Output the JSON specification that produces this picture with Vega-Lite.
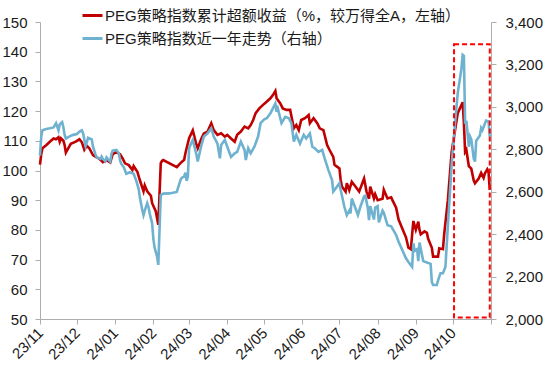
{
  "$schema": "https://vega.github.io/schema/vega-lite/v6.json",
  "width": 451,
  "height": 297,
  "autosize": {"type": "none"},
  "padding": {"left": 40, "top": 22, "right": 59, "bottom": 58},
  "background": "white",
  "config": {
    "view": {"stroke": null},
    "axis": {"labelFont": "Liberation Sans", "labelFontSize": 15, "labelColor": "#1a1a1a", "domainColor": "#ADADAD", "tickColor": "#ADADAD", "tickSize": 5, "grid": false, "title": null}
  },
  "datasets": {
    "excess": [
      {"d":"2023-11-01","v":102},{"d":"2023-11-02","v":105.5},{"d":"2023-11-03","v":107.5},{"d":"2023-11-06","v":108.5},{"d":"2023-11-09","v":109.7},{"d":"2023-11-12","v":110.8},{"d":"2023-11-14","v":110.5},{"d":"2023-11-16","v":111.2},{"d":"2023-11-17","v":109.7},{"d":"2023-11-18","v":110.8},{"d":"2023-11-20","v":110},{"d":"2023-11-21","v":108.5},{"d":"2023-11-22","v":106},{"d":"2023-11-24","v":107.5},{"d":"2023-11-26","v":109},{"d":"2023-11-30","v":109.7},
      {"d":"2023-12-03","v":110.5},{"d":"2023-12-05","v":109.5},{"d":"2023-12-07","v":107},{"d":"2023-12-09","v":108.3},{"d":"2023-12-11","v":107.5},{"d":"2023-12-14","v":105.2},{"d":"2023-12-17","v":104.4},{"d":"2023-12-19","v":104},{"d":"2023-12-22","v":102.8},{"d":"2023-12-25","v":103.5},{"d":"2023-12-28","v":102.7},{"d":"2023-12-30","v":105.5},
      {"d":"2024-01-02","v":106.2},{"d":"2024-01-05","v":105.5},{"d":"2024-01-07","v":104.1},{"d":"2024-01-09","v":102.4},{"d":"2024-01-12","v":101.8},{"d":"2024-01-15","v":100.2},{"d":"2024-01-16","v":101.5},{"d":"2024-01-19","v":99.6},{"d":"2024-01-21","v":96.8},{"d":"2024-01-24","v":93},{"d":"2024-01-25","v":95},{"d":"2024-01-27","v":93},{"d":"2024-01-30","v":91.5},{"d":"2024-01-31","v":89},
      {"d":"2024-02-03","v":86.2},{"d":"2024-02-05","v":81.7},{"d":"2024-02-07","v":102.5},{"d":"2024-02-08","v":103.2},{"d":"2024-02-09","v":103.5},{"d":"2024-02-20","v":101.1},{"d":"2024-02-23","v":102.5},{"d":"2024-02-26","v":103.6},{"d":"2024-02-27","v":105.8},
      {"d":"2024-03-01","v":110.9},{"d":"2024-03-04","v":113.5},{"d":"2024-03-07","v":108.6},{"d":"2024-03-08","v":107.5},{"d":"2024-03-11","v":110.8},{"d":"2024-03-13","v":112.5},{"d":"2024-03-16","v":113.1},{"d":"2024-03-19","v":115.9},{"d":"2024-03-21","v":113.6},{"d":"2024-03-24","v":112},{"d":"2024-03-27","v":112.5},{"d":"2024-03-30","v":111.4},
      {"d":"2024-04-01","v":112},{"d":"2024-04-04","v":110.8},{"d":"2024-04-07","v":109.7},{"d":"2024-04-09","v":112},{"d":"2024-04-12","v":113.1},{"d":"2024-04-15","v":114.8},{"d":"2024-04-18","v":114.2},{"d":"2024-04-20","v":115.3},{"d":"2024-04-22","v":117},{"d":"2024-04-24","v":119.3},{"d":"2024-04-27","v":120.9},{"d":"2024-04-30","v":122.1},
      {"d":"2024-05-02","v":122.8},{"d":"2024-05-06","v":124.3},{"d":"2024-05-08","v":125.4},{"d":"2024-05-10","v":126.8},{"d":"2024-05-11","v":124.3},{"d":"2024-05-14","v":122.6},{"d":"2024-05-16","v":120.9},{"d":"2024-05-19","v":120.4},{"d":"2024-05-22","v":120.4},{"d":"2024-05-25","v":114.2},{"d":"2024-05-27","v":115.3},{"d":"2024-05-29","v":113.6},{"d":"2024-05-31","v":117},
      {"d":"2024-06-03","v":117.6},{"d":"2024-06-06","v":118.7},{"d":"2024-06-07","v":115.9},{"d":"2024-06-10","v":117.6},{"d":"2024-06-13","v":115.9},{"d":"2024-06-15","v":114.2},{"d":"2024-06-18","v":113.6},{"d":"2024-06-21","v":108.6},{"d":"2024-06-23","v":106.9},{"d":"2024-06-26","v":104.6},{"d":"2024-06-27","v":101.9},{"d":"2024-06-29","v":101.3},
      {"d":"2024-07-01","v":100.7},{"d":"2024-07-02","v":96.8},{"d":"2024-07-03","v":94.6},{"d":"2024-07-06","v":92.9},{"d":"2024-07-07","v":95.7},{"d":"2024-07-09","v":93.4},{"d":"2024-07-11","v":96.2},{"d":"2024-07-14","v":94.6},{"d":"2024-07-17","v":92.9},{"d":"2024-07-20","v":96.2},{"d":"2024-07-21","v":97.3},{"d":"2024-07-23","v":92.9},{"d":"2024-07-25","v":90.5},{"d":"2024-07-26","v":94.6},{"d":"2024-07-29","v":90.6},{"d":"2024-07-30","v":92},
      {"d":"2024-08-01","v":90},{"d":"2024-08-05","v":90.5},{"d":"2024-08-06","v":93.5},{"d":"2024-08-09","v":90.6},{"d":"2024-08-12","v":91},{"d":"2024-08-13","v":90},{"d":"2024-08-16","v":87.5},{"d":"2024-08-18","v":83.5},{"d":"2024-08-21","v":80.5},{"d":"2024-08-24","v":77.5},{"d":"2024-08-26","v":74},{"d":"2024-08-28","v":73.5},{"d":"2024-08-29","v":78.5},{"d":"2024-08-30","v":83},
      {"d":"2024-09-01","v":80},{"d":"2024-09-03","v":82.8},{"d":"2024-09-04","v":80},{"d":"2024-09-05","v":78.5},{"d":"2024-09-08","v":79.5},{"d":"2024-09-10","v":79},{"d":"2024-09-11","v":77},{"d":"2024-09-14","v":74},{"d":"2024-09-15","v":71},{"d":"2024-09-19","v":71},{"d":"2024-09-20","v":73.8},{"d":"2024-09-23","v":73.5},{"d":"2024-09-24","v":78.5},{"d":"2024-09-27","v":90},{"d":"2024-09-30","v":106},
      {"d":"2024-10-03","v":114},{"d":"2024-10-05","v":119.3},{"d":"2024-10-08","v":122},{"d":"2024-10-09","v":123},{"d":"2024-10-10","v":116},{"d":"2024-10-11","v":106.3},{"d":"2024-10-12","v":107},{"d":"2024-10-14","v":101.5},{"d":"2024-10-16","v":100.6},{"d":"2024-10-18","v":96.6},{"d":"2024-10-19","v":95.7},{"d":"2024-10-22","v":97.3},{"d":"2024-10-24","v":99.2},{"d":"2024-10-26","v":97.5},{"d":"2024-10-27","v":99},{"d":"2024-10-29","v":100.4},{"d":"2024-10-30","v":99.5},{"d":"2024-10-31","v":93.5}
    ],
    "index": [
      {"d":"2023-11-01","v":2770},{"d":"2023-11-02","v":2860},{"d":"2023-11-03","v":2890},{"d":"2023-11-06","v":2896},{"d":"2023-11-09","v":2899},{"d":"2023-11-12","v":2903},{"d":"2023-11-13","v":2913},{"d":"2023-11-14","v":2923},{"d":"2023-11-16","v":2889},{"d":"2023-11-17","v":2917},{"d":"2023-11-19","v":2928},{"d":"2023-11-20","v":2903},{"d":"2023-11-21","v":2868},{"d":"2023-11-22","v":2851},{"d":"2023-11-25","v":2861},{"d":"2023-11-28","v":2868},
      {"d":"2023-12-01","v":2872},{"d":"2023-12-03","v":2883},{"d":"2023-12-05","v":2889},{"d":"2023-12-06","v":2875},{"d":"2023-12-08","v":2816},{"d":"2023-12-09","v":2833},{"d":"2023-12-10","v":2854},{"d":"2023-12-13","v":2847},{"d":"2023-12-14","v":2812},{"d":"2023-12-16","v":2777},{"d":"2023-12-17","v":2762},{"d":"2023-12-20","v":2755},{"d":"2023-12-21","v":2766},{"d":"2023-12-22","v":2755},{"d":"2023-12-24","v":2743},{"d":"2023-12-25","v":2762},{"d":"2023-12-26","v":2755},{"d":"2023-12-28","v":2742},{"d":"2023-12-29","v":2778},{"d":"2023-12-30","v":2794},
      {"d":"2024-01-02","v":2797},{"d":"2024-01-04","v":2781},{"d":"2024-01-05","v":2746},{"d":"2024-01-06","v":2731},{"d":"2024-01-08","v":2715},{"d":"2024-01-09","v":2700},{"d":"2024-01-10","v":2685},{"d":"2024-01-13","v":2692},{"d":"2024-01-16","v":2685},{"d":"2024-01-17","v":2669},{"d":"2024-01-18","v":2654},{"d":"2024-01-20","v":2615},{"d":"2024-01-21","v":2575},{"d":"2024-01-23","v":2514},{"d":"2024-01-24","v":2490},{"d":"2024-01-25","v":2511},{"d":"2024-01-27","v":2546},{"d":"2024-01-28","v":2529},{"d":"2024-01-29","v":2498},{"d":"2024-01-31","v":2451},
      {"d":"2024-02-01","v":2378},{"d":"2024-02-02","v":2336},{"d":"2024-02-04","v":2295},{"d":"2024-02-05","v":2255},{"d":"2024-02-06","v":2420},{"d":"2024-02-07","v":2584},{"d":"2024-02-09","v":2591},{"d":"2024-02-14","v":2592},{"d":"2024-02-20","v":2599},{"d":"2024-02-23","v":2655},{"d":"2024-02-24","v":2665},{"d":"2024-02-26","v":2672},{"d":"2024-02-27","v":2690},{"d":"2024-02-28","v":2651},{"d":"2024-02-29","v":2671},
      {"d":"2024-03-01","v":2805},{"d":"2024-03-02","v":2819},{"d":"2024-03-04","v":2844},{"d":"2024-03-07","v":2773},{"d":"2024-03-08","v":2742},{"d":"2024-03-11","v":2820},{"d":"2024-03-13","v":2860},{"d":"2024-03-16","v":2875},{"d":"2024-03-19","v":2899},{"d":"2024-03-21","v":2860},{"d":"2024-03-24","v":2827},{"d":"2024-03-26","v":2757},{"d":"2024-03-27","v":2820},{"d":"2024-03-30","v":2844},
      {"d":"2024-04-01","v":2812},{"d":"2024-04-04","v":2764},{"d":"2024-04-07","v":2781},{"d":"2024-04-09","v":2788},{"d":"2024-04-12","v":2836},{"d":"2024-04-15","v":2797},{"d":"2024-04-16","v":2749},{"d":"2024-04-18","v":2805},{"d":"2024-04-20","v":2781},{"d":"2024-04-23","v":2812},{"d":"2024-04-26","v":2860},{"d":"2024-04-28","v":2923},
      {"d":"2024-05-01","v":2941},{"d":"2024-05-03","v":2946},{"d":"2024-05-06","v":2970},{"d":"2024-05-08","v":2993},{"d":"2024-05-10","v":3016},{"d":"2024-05-11","v":2977},{"d":"2024-05-12","v":2993},{"d":"2024-05-15","v":2923},{"d":"2024-05-18","v":2953},{"d":"2024-05-21","v":2946},{"d":"2024-05-23","v":2923},{"d":"2024-05-25","v":2836},{"d":"2024-05-27","v":2868},{"d":"2024-05-30","v":2827},
      {"d":"2024-06-02","v":2868},{"d":"2024-06-04","v":2851},{"d":"2024-06-07","v":2875},{"d":"2024-06-09","v":2812},{"d":"2024-06-11","v":2805},{"d":"2024-06-14","v":2788},{"d":"2024-06-17","v":2797},{"d":"2024-06-19","v":2757},{"d":"2024-06-22","v":2703},{"d":"2024-06-25","v":2655},{"d":"2024-06-26","v":2601},{"d":"2024-06-29","v":2624},
      {"d":"2024-07-01","v":2640},{"d":"2024-07-02","v":2609},{"d":"2024-07-05","v":2529},{"d":"2024-07-07","v":2490},{"d":"2024-07-09","v":2511},{"d":"2024-07-10","v":2498},{"d":"2024-07-11","v":2568},{"d":"2024-07-14","v":2522},{"d":"2024-07-16","v":2490},{"d":"2024-07-18","v":2529},{"d":"2024-07-21","v":2578},{"d":"2024-07-22","v":2581},{"d":"2024-07-24","v":2525},{"d":"2024-07-25","v":2466},{"d":"2024-07-26","v":2532},{"d":"2024-07-29","v":2469},{"d":"2024-07-30","v":2525},
      {"d":"2024-08-01","v":2532},{"d":"2024-08-02","v":2455},{"d":"2024-08-05","v":2511},{"d":"2024-08-06","v":2501},{"d":"2024-08-09","v":2442},{"d":"2024-08-12","v":2437},{"d":"2024-08-14","v":2417},{"d":"2024-08-16","v":2396},{"d":"2024-08-18","v":2364},{"d":"2024-08-21","v":2325},{"d":"2024-08-24","v":2286},{"d":"2024-08-26","v":2269},{"d":"2024-08-29","v":2246},{"d":"2024-08-30","v":2357},{"d":"2024-08-31","v":2321},
      {"d":"2024-09-02","v":2329},{"d":"2024-09-03","v":2273},{"d":"2024-09-04","v":2360},{"d":"2024-09-07","v":2273},{"d":"2024-09-10","v":2266},{"d":"2024-09-13","v":2260},{"d":"2024-09-14","v":2175},{"d":"2024-09-15","v":2160},{"d":"2024-09-18","v":2160},{"d":"2024-09-19","v":2181},{"d":"2024-09-21","v":2216},{"d":"2024-09-23","v":2216},{"d":"2024-09-25","v":2245},{"d":"2024-09-27","v":2440},{"d":"2024-09-30","v":2720},
      {"d":"2024-10-03","v":2935},{"d":"2024-10-05","v":3065},{"d":"2024-10-08","v":3180},{"d":"2024-10-09","v":3245},{"d":"2024-10-10","v":3240},{"d":"2024-10-11","v":2920},{"d":"2024-10-12","v":2935},{"d":"2024-10-14","v":2812},{"d":"2024-10-15","v":2860},{"d":"2024-10-16","v":2847},{"d":"2024-10-18","v":2756},{"d":"2024-10-19","v":2742},{"d":"2024-10-20","v":2840},{"d":"2024-10-23","v":2865},{"d":"2024-10-24","v":2900},{"d":"2024-10-25","v":2890},{"d":"2024-10-27","v":2920},{"d":"2024-10-28","v":2935},{"d":"2024-10-30","v":2931},{"d":"2024-10-31","v":2860}
    ],
    "box": [{"d":"2024-10-02","d2":"2024-10-31","v":2007,"v2":3295}]
  },
  "encoding": {
    "x": {
      "field": "d", "type": "temporal",
      "scale": {"type": "utc", "domain": [{"year": 2023, "month": 11, "date": 1, "utc": true}, {"year": 2024, "month": 11, "date": 1, "utc": true}]},
      "axis": {
        "values": [
          {"year": 2023, "month": 11, "date": 1, "utc": true},{"year": 2023, "month": 12, "date": 1, "utc": true},
          {"year": 2024, "month": 1, "date": 1, "utc": true},{"year": 2024, "month": 2, "date": 1, "utc": true},
          {"year": 2024, "month": 3, "date": 1, "utc": true},{"year": 2024, "month": 4, "date": 1, "utc": true},
          {"year": 2024, "month": 5, "date": 1, "utc": true},{"year": 2024, "month": 6, "date": 1, "utc": true},
          {"year": 2024, "month": 7, "date": 1, "utc": true},{"year": 2024, "month": 8, "date": 1, "utc": true},
          {"year": 2024, "month": 9, "date": 1, "utc": true},{"year": 2024, "month": 10, "date": 1, "utc": true},
          {"year": 2024, "month": 11, "date": 1, "utc": true}
        ],
        "labelExpr": "datum.value >= datetime(2024, 9, 15) ? '' : utcFormat(datum.value, '%y/%m')",
        "labelAngle": -45, "labelAlign": "right", "labelBaseline": "middle",
        "labelPadding": 6, "labelFontSize": 15, "labelOverlap": false, "labelFlush": false
      }
    }
  },
  "layer": [
    {
      "data": {"name": "excess"},
      "mark": {"type": "line", "strokeWidth": 2.6},
      "encoding": {
        "y": {
          "field": "v", "type": "quantitative",
          "scale": {"domain": [50, 150], "nice": false, "zero": false},
          "axis": {"orient": "left", "values": [50,60,70,80,90,100,110,120,130,140,150], "labelPadding": 8}
        },
        "color": {
          "datum": "PEG策略指数累计超额收益（%，较万得全A，左轴）", "type": "nominal",
          "scale": {
            "domain": ["PEG策略指数累计超额收益（%，较万得全A，左轴）", "PEG策略指数近一年走势（右轴）"],
            "range": ["#C00000", "#6FB2D0"]
          },
          "legend": {
            "orient": "none", "legendX": 41, "legendY": -18, "direction": "vertical", "title": null,
            "symbolType": "stroke", "symbolSize": 400, "symbolStrokeWidth": 3,
            "labelFont": "Liberation Sans, Noto Sans CJK SC", "labelFontSize": 15, "labelColor": "#1a1a1a",
            "labelLimit": 600, "labelOffset": 1, "rowPadding": 3, "padding": 0
          }
        }
      }
    },
    {
      "encoding": {
        "y": {
          "field": "v", "type": "quantitative",
          "scale": {"domain": [2000, 3400], "nice": false, "zero": false},
          "axis": {
            "orient": "right", "values": [2000,2200,2400,2600,2800,3000,3200,3400],
            "labelExpr": "floor(datum.value / 1000) + ',' + (datum.value % 1000 == 0 ? '000' : '' + (datum.value % 1000))",
            "labelPadding": 9
          }
        }
      },
      "layer": [
        {
          "data": {"name": "index"},
          "mark": {"type": "line", "strokeWidth": 2.6},
          "encoding": {
            "color": {"datum": "PEG策略指数近一年走势（右轴）", "type": "nominal"}
          }
        },
        {
          "data": {"name": "box"},
          "mark": {"type": "rect", "fillOpacity": 0, "stroke": "#FF0000", "strokeWidth": 2, "strokeDash": [5, 3]},
          "encoding": {
            "x2": {"field": "d2"},
            "y2": {"field": "v2"}
          }
        }
      ]
    }
  ],
  "resolve": {"scale": {"y": "independent"}}
}
